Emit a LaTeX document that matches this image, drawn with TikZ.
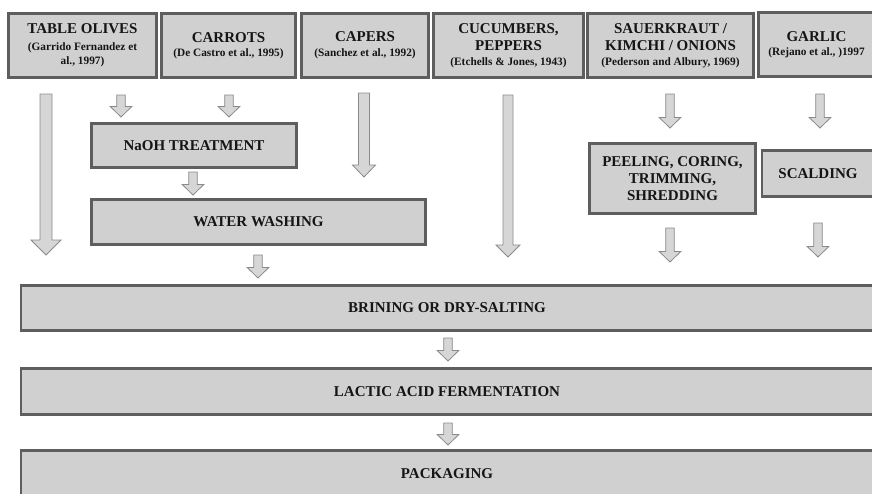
\documentclass[tikz,border=0pt]{standalone}
\usepackage{fontspec}
\setmainfont{Liberation Serif}
\usetikzlibrary{calc}
\definecolor{boxfill}{HTML}{D0D0D0}
\definecolor{boxline}{HTML}{5E5E5E}
\definecolor{arrfill}{HTML}{D6D6D6}
\definecolor{arrline}{HTML}{8A8A8A}
\definecolor{txt}{HTML}{151515}
\newcommand{\citefont}{\fontsize{11.3}{12}\selectfont}
\tikzset{
  box/.style={draw=boxline, fill=boxfill, line width=2.4pt, inner sep=0pt,
    align=center, text=txt, font=\bfseries\fontsize{15}{17}\selectfont},
  blockarrow/.style n args={3}{draw=arrline, fill=arrfill, line width=0.8pt,
    line join=miter,
    to path={let \p1=(\tikztostart), \p2=(\tikztotarget) in
      (\x1-#1pt,\y1) -- (\x1+#1pt,\y1) -- (\x1+#1pt,\y2+#3pt) -- (\x1+#2pt,\y2+#3pt)
      -- (\x1,\y2) -- (\x1-#2pt,\y2+#3pt) -- (\x1-#1pt,\y2+#3pt) -- cycle}},
  small/.style={blockarrow={4.3}{10.8}{10.5}},
}
\begin{document}
\begin{tikzpicture}[x=1pt,y=-1pt]
\useasboundingbox (0,0) rectangle (872,493);
\begin{scope}
\clip (0,0) rectangle (872,493);
% top boxes
\node[box, minimum width=148pt, minimum height=64pt] (olives) at (82.5,45.5)
  {TABLE OLIVES\\{\citefont (Garrido Fernandez et}\\[-3pt]{\citefont al., 1997)}};
\node[box, minimum width=134pt, minimum height=64pt] (carrots) at (228.5,45.5)
  {CARROTS\\[-3pt]{\citefont (De Castro et al., 1995)}};
\node[box, minimum width=127pt, minimum height=64pt] (capers) at (365,45.5)
  {CAPERS\\[-2pt]{\citefont (Sanchez et al., 1992)}};
\node[box, minimum width=150pt, minimum height=64pt] (cucumbers) at (508.5,45.5)
  {CUCUMBERS,\\PEPPERS\\[-2pt]{\citefont (Etchells \& Jones, 1943)}};
\node[box, minimum width=166pt, minimum height=64pt] (sauer) at (670.5,45.5)
  {SAUERKRAUT /\\KIMCHI / ONIONS\\[-2pt]{\citefont (Pederson and Albury, 1969)}};
\node[box, minimum width=116pt, minimum height=64pt] (garlic) at (816.5,44.5)
  {GARLIC\\[-3pt]{\citefont (Rejano et al., )1997}};
% process boxes
\node[box, minimum width=205pt, minimum height=44pt] (naoh) at (194,145.5) {NaOH TREATMENT};
\node[box, minimum width=334pt, minimum height=45pt] (water) at (258.5,222) {WATER WASHING};
\node[box, minimum width=166pt, minimum height=70pt] (peel) at (672.5,178.5)
  {PEELING, CORING,\\TRIMMING,\\SHREDDING};
\node[box, minimum width=112pt, minimum height=46pt] (scald) at (818,173.5) {SCALDING};
\node[box, minimum width=852pt, minimum height=45pt] (brine) at (447,308) {BRINING OR DRY-SALTING};
\node[box, minimum width=852pt, minimum height=46pt] (lactic) at (447,391.5) {LACTIC ACID FERMENTATION};
\node[box, minimum width=852pt, minimum height=46pt] (pack) at (447,473.5) {PACKAGING};
\end{scope}
% arrow end points
\coordinate (a1s) at (46,94);   \coordinate (a1e) at (46,255);
\coordinate (a2s) at (121,95);  \coordinate (a2e) at (121,117);
\coordinate (a3s) at (229,95);  \coordinate (a3e) at (229,117);
\coordinate (a4s) at (193,172); \coordinate (a4e) at (193,195);
\coordinate (a5s) at (364,93);  \coordinate (a5e) at (364,177);
\coordinate (a6s) at (258,255); \coordinate (a6e) at (258,278);
\coordinate (a7s) at (508,95);  \coordinate (a7e) at (508,257);
\coordinate (a8s) at (670,94);  \coordinate (a8e) at (670,128);
\coordinate (a9s) at (820,94);  \coordinate (a9e) at (820,128);
\coordinate (a10s) at (670,228); \coordinate (a10e) at (670,262);
\coordinate (a11s) at (818,223); \coordinate (a11e) at (818,257);
\coordinate (a12s) at (448,338); \coordinate (a12e) at (448,361);
\coordinate (a13s) at (448,423); \coordinate (a13e) at (448,445);
% arrows
\draw[blockarrow={6}{15}{15}] (a1s) to (a1e);
\draw[small] (a2s) to (a2e);
\draw[small] (a3s) to (a3e);
\draw[small] (a4s) to (a4e);
\draw[blockarrow={5.5}{11.5}{12}] (a5s) to (a5e);
\draw[small] (a6s) to (a6e);
\draw[blockarrow={5}{12}{12}] (a7s) to (a7e);
\draw[small] (a8s) to (a8e);
\draw[small] (a9s) to (a9e);
\draw[small] (a10s) to (a10e);
\draw[small] (a11s) to (a11e);
\draw[small] (a12s) to (a12e);
\draw[small] (a13s) to (a13e);
\end{tikzpicture}
\end{document}
